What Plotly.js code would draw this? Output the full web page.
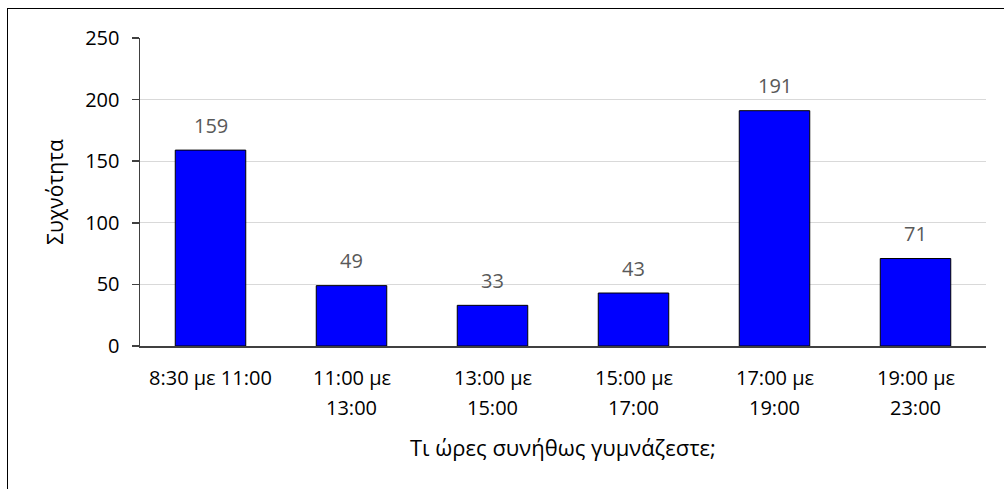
<!DOCTYPE html>
<html>
<head>
<meta charset="utf-8">
<script src="https://cdn.plot.ly/plotly-3.0.1.min.js"></script>
<style>
  html, body { margin: 0; padding: 0; background: #fff; overflow: hidden; }
  #chart { position: absolute; left: 0; top: 0; width: 1004px; height: 489px; }
  #frame { position: absolute; left: 7px; top: 8px; width: 1100px; height: 600px;
           border-left: 1.5px solid #000; border-top: 1.5px solid #000; pointer-events: none; }
</style>
</head>
<body>
<div id="chart"></div>
<div id="frame"></div>
<script>
// Time slots (first and second line of each category label)
const labelLine1 = ["8:30 με 11:00", "11:00 με", "13:00 με", "15:00 με", "17:00 με", "19:00 με"];
const labelLine2 = ["", "13:00", "15:00", "17:00", "19:00", "23:00"];
// Number of responses per slot
const counts = [159, 49, 33, 43, 191, 71];
const yTicks = [0, 50, 100, 150, 200, 250];
const xTitle = "Τι ώρες συνήθως γυμνάζεστε;";
const yTitle = "Συχνότητα";

const FONT = "Open Sans, sans-serif";
const FS = 20;
const categories = labelLine1.map((a, i) => labelLine2[i] ? a + " " + labelLine2[i] : a);

const trace = {
  type: "bar",
  x: categories,
  y: counts,
  width: 0.5,
  marker: { color: "#0000FF", line: { color: "#000000", width: 1 } },
  hoverinfo: "x+y"
};

const annotations = [];
counts.forEach((v, i) => {
  annotations.push({
    x: categories[i], y: v, xref: "x", yref: "y",
    text: String(v), showarrow: false, yanchor: "middle", yshift: 25,
    font: { family: FONT, size: FS, color: "#595959" }
  });
  annotations.push({
    x: categories[i], y: 0, xref: "x", yref: "y",
    text: labelLine1[i], showarrow: false, yanchor: "middle", yshift: -31,
    font: { family: FONT, size: FS, color: "#000000" }
  });
  if (labelLine2[i]) {
    annotations.push({
      x: categories[i], y: 0, xref: "x", yref: "y",
      text: labelLine2[i], showarrow: false, yanchor: "middle", yshift: -61,
      font: { family: FONT, size: FS, color: "#000000" }
    });
  }
});
// x-axis title
annotations.push({
  x: 0.5, y: 0, xref: "paper", yref: "paper",
  text: xTitle, showarrow: false, yanchor: "middle", yshift: -101,
  font: { family: FONT, size: 22, color: "#000000" }
});

const layout = {
  width: 1004, height: 489,
  margin: { l: 140, r: 18, t: 38, b: 143 },
  paper_bgcolor: "rgba(0,0,0,0)",
  plot_bgcolor: "#ffffff",
  showlegend: false,
  font: { family: FONT, size: FS, color: "#000000" },
  xaxis: {
    type: "category",
    showticklabels: false,
    showline: true, linecolor: "#404040", linewidth: 1.5,
    showgrid: false, ticks: "",
    automargin: false
  },
  yaxis: {
    range: [0, 250],
    tickvals: yTicks,
    ticks: "outside", ticklen: 7, tickcolor: "#404040", tickwidth: 1.5,
    ticklabelstandoff: 8,
    showline: true, linecolor: "#404040", linewidth: 1.5,
    gridcolor: "#d9d9d9", gridwidth: 1.2,
    zeroline: false,
    tickfont: { family: FONT, size: FS },
    title: { text: yTitle, font: { family: FONT, size: 21 }, standoff: 16 },
    automargin: false
  },
  annotations: annotations
};

Plotly.newPlot("chart", [trace], layout, { displayModeBar: false, staticPlot: true });
</script>
</body>
</html>
